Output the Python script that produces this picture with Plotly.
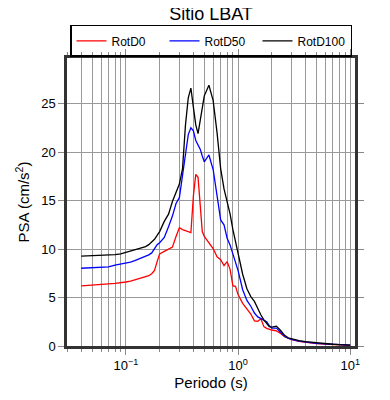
import plotly.graph_objects as go

periods = [0.04, 0.05, 0.06, 0.07, 0.08, 0.09, 0.10, 0.11, 0.12, 0.13, 0.14, 0.15,
           0.16, 0.17, 0.18, 0.19, 0.20, 0.22, 0.24, 0.26, 0.28, 0.30, 0.32, 0.34,
           0.36, 0.38, 0.40, 0.42, 0.44, 0.46, 0.48, 0.50, 0.55, 0.60, 0.65, 0.70,
           0.75, 0.80, 0.85, 0.90, 0.95, 1.0, 1.1, 1.2, 1.3, 1.4, 1.5, 1.6, 1.7,
           1.8, 1.9, 2.0, 2.2, 2.4, 2.6, 2.8, 3.0, 3.5, 4.0, 5.0, 6.0, 7.0, 8.0,
           9.0, 10.0]

rotd0 = [6.2, 6.25, 6.3, 6.4, 6.45, 6.5, 6.6, 6.7, 6.8, 6.9, 7.05, 7.15,
         7.25, 7.45, 7.8, 8.7, 9.5, 9.75, 10.0, 10.2, 11.3, 12.2, 12.0, 11.9,
         11.8, 11.7, 15.5, 17.7, 17.4, 14.5, 11.8, 11.3, 10.7, 10.05, 9.2, 8.9,
         8.3, 8.7, 7.9, 6.2, 6.15, 5.3, 4.4, 3.8, 3.3, 2.6, 2.55, 2.8, 2.0,
         1.82, 1.7, 1.65, 1.55, 1.3, 0.95, 0.75, 0.65, 0.48, 0.38, 0.26, 0.2, 0.15, 0.12,
         0.09, 0.07]

rotd50 = [8.02, 8.05, 8.1, 8.15, 8.35, 8.45, 8.5, 8.65, 8.8, 8.95, 9.1, 9.2,
          9.4, 9.6, 10.0, 10.45, 10.65, 11.2, 12.3, 13.4, 14.7, 15.3, 17.6, 20.0,
          21.8, 22.5, 22.2, 21.2, 20.7, 20.3, 19.6, 19.0, 19.7, 18.2, 15.5, 13.0,
          12.5, 11.1, 10.4, 9.5, 8.7, 7.8, 5.8, 4.7, 4.1, 3.4, 3.0, 2.85, 2.7,
          2.5, 2.1, 1.85, 1.85, 1.4, 1.0, 0.8, 0.68, 0.5, 0.4, 0.28, 0.21, 0.16, 0.12,
          0.1, 0.08]

rotd100 = [9.26, 9.3, 9.33, 9.36, 9.42, 9.5, 9.65, 9.8, 9.9, 10.0, 10.1, 10.25,
           10.45, 10.7, 11.0, 11.4, 11.8, 12.85, 13.6, 14.9, 15.8, 16.7, 18.3, 22.8,
           25.6, 26.6, 24.6, 22.8, 21.9, 23.3, 24.6, 25.8, 26.9, 25.3, 22.0, 18.3,
           16.2, 14.8, 13.6, 12.0, 10.8, 9.6, 7.4, 5.9, 5.1, 4.6, 3.8, 3.2, 2.7,
           2.3, 2.0, 1.95, 2.05, 1.6, 1.1, 0.85, 0.75, 0.55, 0.45, 0.32, 0.24, 0.18, 0.14,
           0.11, 0.09]

series_names = ["RotD0", "RotD50", "RotD100"]
series_values = [rotd0, rotd50, rotd100]
series_colors = ["#ff0000", "#0000ff", "#000000"]

xtick_vals = [0.1, 1, 10]
xtick_text = ["10<sup>\u22121</sup>", "10<sup>0</sup>", "10<sup>1</sup>"]
minor_vals = [m * d for d in (0.01, 0.1, 1, 10) for m in range(2, 10)]

fig = go.Figure()
for name, vals, col in zip(series_names, series_values, series_colors):
    fig.add_trace(go.Scatter(x=periods, y=vals, mode="lines", name=name,
                             line=dict(color=col, width=1.3)))

font_family = "Liberation Sans, Arial, sans-serif"
fig.update_layout(
    width=390, height=400,
    margin=dict(l=59, r=43, t=50, b=62, autoexpand=False),
    paper_bgcolor="white", plot_bgcolor="white",
    font=dict(family=font_family, color="black", size=13),
    title=dict(text="Sitio LBAT", x=0.5, xanchor="center", xref="paper",
               y=0.985, yanchor="middle", font=dict(size=18)),
    legend=dict(orientation="h", x=0.5, xanchor="center",
                y=1.004, yanchor="bottom", bgcolor="rgba(255,255,255,0)",
                bordercolor="black", borderwidth=1.5, font=dict(size=12),
                entrywidth=48, entrywidthmode="pixels",
                tracegroupgap=0, itemwidth=30),
    showlegend=True,
)
fig.update_xaxes(
    type="log", range=[-1.525, 1.043],
    tickmode="array", tickvals=xtick_vals, ticktext=xtick_text,
    ticks="outside", ticklen=6, tickcolor="#888888", tickwidth=1,
    showgrid=True, gridcolor="#999999", gridwidth=1,
    minor=dict(tickmode="array", tickvals=minor_vals, ticks="outside", ticklen=3,
               tickcolor="#888888", showgrid=True, gridcolor="#999999", gridwidth=1),
    showline=True, linecolor="#333333", linewidth=2.5, mirror="ticks",
    tickfont=dict(size=13),
    title=dict(text="Periodo (s)", font=dict(size=15), standoff=6),
    zeroline=False,
)
fig.update_yaxes(
    range=[0, 29.7], tickvals=[0, 5, 10, 15, 20, 25],
    ticks="outside", ticklen=6, tickcolor="#888888", tickwidth=1,
    showgrid=True, gridcolor="#999999", gridwidth=1,
    showline=True, linecolor="#333333", linewidth=2.5, mirror="ticks",
    tickfont=dict(size=13),
    title=dict(text="PSA (cm/s<sup>2</sup>)", font=dict(size=15), standoff=8),
    zeroline=False,
)

fig.write_html("out.html")
